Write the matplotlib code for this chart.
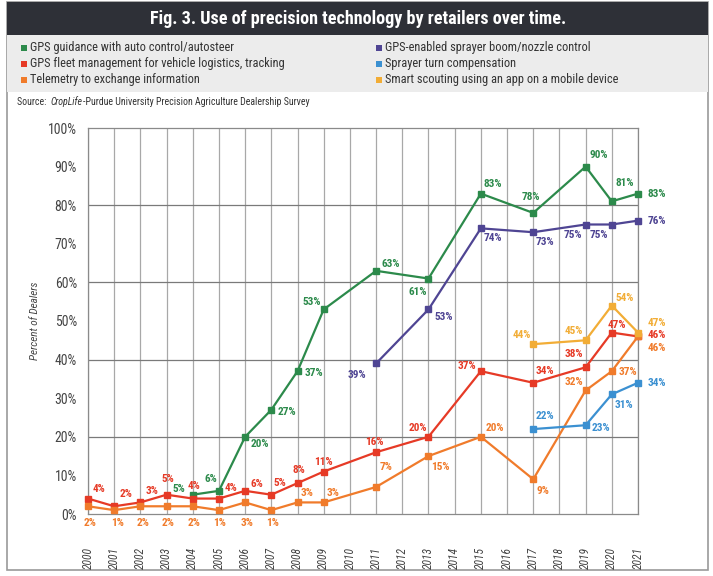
"""Use of precision technology by retailers over time (Fig. 3)."""
import matplotlib
matplotlib.use("Agg")
import matplotlib.pyplot as plt
from matplotlib.patches import Rectangle
from matplotlib import font_manager

W, H = 713, 576

# condensed face if one is installed, else Liberation Sans
names = {f.name for f in font_manager.fontManager.ttflist}
cands = ["Roboto Condensed", "Liberation Sans Narrow", "Arial Narrow", "Noto Sans Condensed",
         "Liberation Sans"]
base = next(c for c in cands if c in names)
plt.rcParams["font.family"] = [base, "DejaVu Sans"]

# ---------------------------------------------------------------------------
# Data
# ---------------------------------------------------------------------------
years = list(range(2000, 2022))

autosteer_years = [2004, 2005, 2006, 2007, 2008, 2009, 2011, 2013, 2015, 2017, 2019, 2020, 2021]
autosteer = [5, 6, 20, 27, 37, 53, 63, 61, 83, 78, 90, 81, 83]

boom_years = [2011, 2013, 2015, 2017, 2019, 2020, 2021]
boom = [39, 53, 74, 73, 75, 75, 76]

fleet_years = [2000, 2001, 2002, 2003, 2004, 2005, 2006, 2007, 2008, 2009,
               2011, 2013, 2015, 2017, 2019, 2020, 2021]
fleet = [4, 2, 3, 5, 4, 4, 6, 5, 8, 11, 16, 20, 37, 34, 38, 47, 46]

telemetry_years = fleet_years
telemetry = [2, 1, 2, 2, 2, 1, 3, 1, 3, 3, 7, 15, 20, 9, 32, 37, 46]

turn_years = [2017, 2019, 2020, 2021]
turn = [22, 23, 31, 34]

scouting_years = [2017, 2019, 2020, 2021]
scouting = [44, 45, 54, 47]

legend_labels = [
    "GPS guidance with auto control/autosteer",
    "GPS fleet management for vehicle logistics, tracking",
    "Telemetry to exchange information",
    "GPS-enabled sprayer boom/nozzle control",
    "Sprayer turn compensation",
    "Smart scouting using an app on a mobile device",
]

# label offsets in pixels (dx, dy), dy up
autosteer_off = [(-14, 6), (-8, 12), (15, -7), (16, -2), (16, -2), (-12, 7), (15, 7),
                 (-11, -13), (12, 10), (-2, 16), (13, 12), (13, 18), (19, 0)]
boom_off = [(-19, -12), (15, -8), (12, -10), (12, -10), (-13, -10), (-13, -10), (19, 0)]
fleet_off = [(11, 10), (12, 12), (12, 11), (1, 16), (1, 13), (12, 11), (12, 7), (9, 12),
             (1, 13), (0, 10), (-2, 10), (-11, 9), (-14, 5), (12, 12), (-12, 13), (5, 8), (19, 1)]
telemetry_off = [(2, -17), (3, -13), (3, -17), (1, -17), (1, -17), (1, -13), (2, -21), (1, -13),
                 (10, 9), (9, 9), (10, 20), (12, -11), (14, 9), (10, -12), (-12, 8), (16, -1), (19, -12)]
turn_off = [(12, 13), (15, -3), (12, -11), (19, 0)]
scouting_off = [(-11, 9), (-12, 9), (13, 8), (19, 10)]

GREEN = "#2c8a4b"
PURPLE = "#4f4593"
RED = "#e63a26"
ORANGE = "#f07b2b"
BLUE = "#3b90d1"
YELLOW = "#f2ad36"

series = [
    (autosteer_years, autosteer, autosteer_off, GREEN),
    (boom_years, boom, boom_off, PURPLE),
    (fleet_years, fleet, fleet_off, RED),
    (telemetry_years, telemetry, telemetry_off, ORANGE),
    (turn_years, turn, turn_off, BLUE),
    (scouting_years, scouting, scouting_off, YELLOW),
]

# ---------------------------------------------------------------------------
# Figure frame
# ---------------------------------------------------------------------------
fig = plt.figure(figsize=(W / 100, H / 100), dpi=100)
fig.patch.set_facecolor("white")


def fx(px):
    return px / W


def fy(py):
    return 1 - py / H


fig.patches.append(Rectangle((fx(7), fy(570)), fx(701), 568 / H, transform=fig.transFigure,
                             facecolor="none", edgecolor="#9a9a9a", lw=1.2, zorder=-2))
fig.patches.append(Rectangle((fx(7), fy(35)), fx(701), 33 / H, transform=fig.transFigure,
                             facecolor="#2e3037", edgecolor="none", zorder=-1))
fig.patches.append(Rectangle((fx(7), fy(92)), fx(701), 57 / H, transform=fig.transFigure,
                             facecolor="#ececec", edgecolor="none", zorder=-1))

fig.text(fx(358), fy(19), "Fig. 3. Use of precision technology by retailers over time.",
         color="white", fontsize=13.1, fontweight="bold", ha="center", va="center")

legend_pos = [(21, 48), (21, 64), (21, 80), (376, 48), (376, 64), (376, 80)]
legend_colors = [GREEN, RED, ORANGE, PURPLE, BLUE, YELLOW]
for (lx, ly), lab, col in zip(legend_pos, legend_labels, legend_colors):
    fig.patches.append(Rectangle((fx(lx), fy(ly + 3)), fx(6), 6 / H, transform=fig.transFigure,
                                 facecolor=col, edgecolor="none", zorder=0))
    fig.text(fx(lx + 9), fy(ly), lab, fontsize=8.9, color="#333333", ha="left", va="center")

# source line, pieces laid out one after another
renderer = fig.canvas.get_renderer()
sx = 17
for piece, st in [("Source: ", "normal"), ("CropLife", "italic"),
                  ("-Purdue University Precision Agriculture Dealership Survey", "normal")]:
    t = fig.text(fx(sx), fy(102), piece, fontsize=7.1, style=st, color="#333333",
                 ha="left", va="center")
    sx += t.get_window_extent(renderer).width + (2 if piece.endswith(" ") else 0.5)

# ---------------------------------------------------------------------------
# Chart
# ---------------------------------------------------------------------------
ax = fig.add_axes([fx(88), fy(514), fx(550), 386 / H])
ax.set_xlim(0, len(years) - 1)
ax.set_ylim(0, 100)
ax.set_xticks(range(len(years)))
ax.set_xticklabels([str(y) for y in years], rotation=90, style="italic",
                   fontsize=8.3, color="#444444", va="top")
ax.set_yticks(range(0, 101, 10))
ax.set_yticklabels([f"{v}%" for v in range(0, 101, 10)], fontsize=9.9, color="#444444")
ax.tick_params(length=0, pad=8)
ax.tick_params(axis="x", pad=24)
for x in range(len(years)):
    ax.axvline(x, color="#a8a8a8", lw=0.9, zorder=1)
for y in range(20, 100, 20):
    ax.axhline(y, color="#7a7a7a", lw=0.9, zorder=1)
for sp in ax.spines.values():
    sp.set_color("#8a8a8a")
    sp.set_linewidth(0.9)
ax.set_ylabel("Percent of Dealers", style="italic", fontsize=8, color="#444444", labelpad=6)

for yrs, vals, offs, col in series:
    xs = [years.index(y) for y in yrs]
    ax.plot(xs, vals, color=col, lw=1.6, marker="s", ms=4.8, zorder=3, clip_on=False)
    for x, v, (dx, dy) in zip(xs, vals, offs):
        ax.annotate(f"{v}%", (x, v), xytext=(dx, dy), textcoords="offset pixels",
                    ha="center", va="center", fontsize=8.1, fontweight="bold", color=col,
                    annotation_clip=False, zorder=4)

fig.savefig("out.png", dpi=100)
